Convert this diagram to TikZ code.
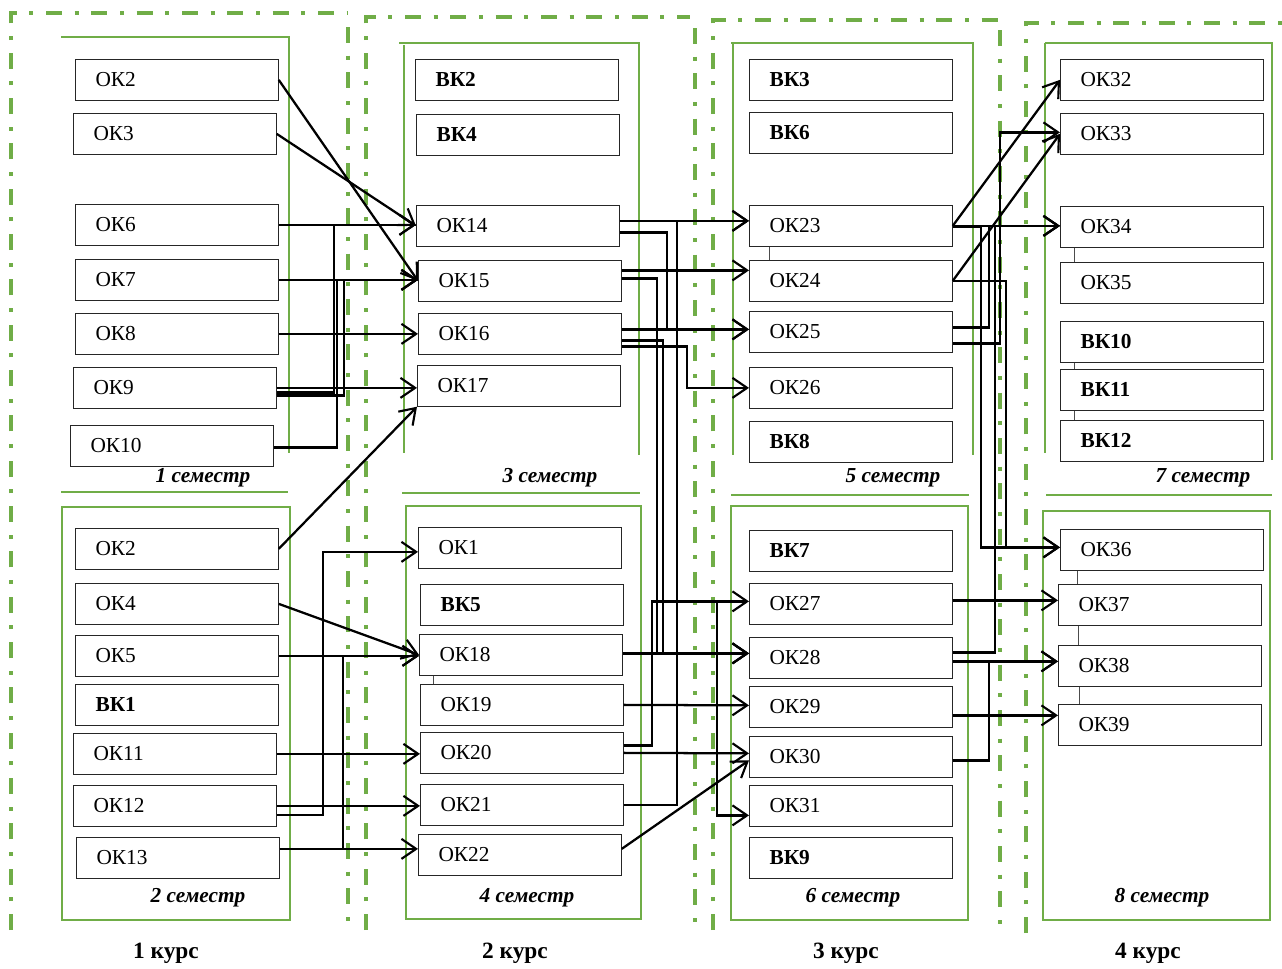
\documentclass[tikz,border=0pt]{standalone}
\usepackage{fontspec}
\setmainfont{Liberation Serif}
\usetikzlibrary{arrows.meta, calc}
\definecolor{planGreen}{RGB}{112,173,71}
\tikzstyle{arrow} = [line width=1.7pt,-{Straight Barb[length=11pt,width=15pt,line width=1.6pt]}]
\tikzstyle{okbox} = [rectangle, draw=black!85, fill=white, line width=0.8pt, anchor=north west, minimum height=30.5pt, inner xsep=15pt, text width=122pt, align=left, font=\fontsize{16}{19}\selectfont]
\tikzstyle{vkbox} = [okbox, font=\fontsize{16}{19}\selectfont\bfseries]
\tikzstyle{semframe} = [draw=planGreen, line width=1pt]
\tikzstyle{yearframe} = [draw=planGreen, line width=3pt, dash pattern=on 12pt off 9.5pt on 3pt off 9.5pt]
\tikzstyle{stub} = [draw=black!70, line width=0.6pt]
\tikzstyle{semlabel} = [font=\fontsize{16}{19}\selectfont\bfseries\itshape]
\tikzstyle{yearlabel} = [font=\fontsize{17.5}{20}\selectfont\bfseries]

\begin{document}
\begin{tikzpicture}[x=0.75pt, y=-0.75pt]
\useasboundingbox (0,0) rectangle (1282,968);

% Course frames
\draw [yearframe] (11,930) -- (11,13) -- (347,13);
\draw [yearframe] (348,27) -- (348,930);
\draw [yearframe] (366,930) -- (366,17) -- (690,17);
\draw [yearframe] (695,28) -- (695,930);
\draw [yearframe] (713,930) -- (713,20) -- (1003,20);
\draw [yearframe] (1000,30) -- (1000,933);
\draw [yearframe] (1026,933) -- (1026,23) -- (1282,23);

% Semester frames
\draw [semframe] (61,37) -- (289,37) -- (289,453);
\draw [semframe] (61,492) -- (288,492);
\draw [semframe] (62,507) rectangle (290,920);
\draw [semframe] (399,43) -- (639,43) -- (639,455);
\draw [semframe] (404,45) -- (404,453);
\draw [semframe] (402,493) -- (640,493);
\draw [semframe] (406,506) rectangle (641,919);
\draw [semframe] (731,43) -- (973,43) -- (973,455);
\draw [semframe] (733,43) -- (733,455);
\draw [semframe] (731,495) -- (969,495);
\draw [semframe] (731,506) rectangle (968,920);
\draw [semframe] (1045,43) -- (1272,43) -- (1272,460);
\draw [semframe] (1045,43) -- (1045,453);
\draw [semframe] (1046,495) -- (1272,495);
\draw [semframe] (1043,511) rectangle (1270,920);

% Placement of nodes
% 1 semester
\node (ok2) [okbox] at (75,59) {ОК2};
\node (ok3) [okbox] at (73,113) {ОК3};
\node (ok6) [okbox] at (75,204) {ОК6};
\node (ok7) [okbox] at (75,259) {ОК7};
\node (ok8) [okbox] at (75,313) {ОК8};
\node (ok9) [okbox] at (73,367) {ОК9};
\node (ok10) [okbox] at (70,425) {ОК10};
% 2 semester
\node (ok2b) [okbox] at (75,528) {ОК2};
\node (ok4) [okbox] at (75,583) {ОК4};
\node (ok5) [okbox] at (75,635) {ОК5};
\node (vk1) [vkbox] at (75,684) {ВК1};
\node (ok11) [okbox] at (73,733) {ОК11};
\node (ok12) [okbox] at (73,785) {ОК12};
\node (ok13) [okbox] at (76,837) {ОК13};
% 3 semester
\node (vk2) [vkbox] at (415,59) {ВК2};
\node (vk4) [vkbox] at (416,114) {ВК4};
\node (ok14) [okbox] at (416,205) {ОК14};
\node (ok15) [okbox] at (418,260) {ОК15};
\node (ok16) [okbox] at (418,313) {ОК16};
\node (ok17) [okbox] at (417,365) {ОК17};
% 4 semester
\node (ok1) [okbox] at (418,527) {ОК1};
\node (vk5) [vkbox] at (420,584) {ВК5};
\node (ok18) [okbox] at (419,634) {ОК18};
\node (ok19) [okbox] at (420,684) {ОК19};
\node (ok20) [okbox] at (420,732) {ОК20};
\node (ok21) [okbox] at (420,784) {ОК21};
\node (ok22) [okbox] at (418,834) {ОК22};
% 5 semester
\node (vk3) [vkbox] at (749,59) {ВК3};
\node (vk6) [vkbox] at (749,112) {ВК6};
\node (ok23) [okbox] at (749,205) {ОК23};
\node (ok24) [okbox] at (749,260) {ОК24};
\node (ok25) [okbox] at (749,311) {ОК25};
\node (ok26) [okbox] at (749,367) {ОК26};
\node (vk8) [vkbox] at (749,421) {ВК8};
% 6 semester
\node (vk7) [vkbox] at (749,530) {ВК7};
\node (ok27) [okbox] at (749,583) {ОК27};
\node (ok28) [okbox] at (749,637) {ОК28};
\node (ok29) [okbox] at (749,686) {ОК29};
\node (ok30) [okbox] at (749,736) {ОК30};
\node (ok31) [okbox] at (749,785) {ОК31};
\node (vk9) [vkbox] at (749,837) {ВК9};
% 7 semester
\node (ok32) [okbox] at (1060,59) {ОК32};
\node (ok33) [okbox] at (1060,113) {ОК33};
\node (ok34) [okbox] at (1060,206) {ОК34};
\node (ok35) [okbox] at (1060,262) {ОК35};
\node (vk10) [vkbox] at (1060,321) {ВК10};
\node (vk11) [vkbox] at (1060,369) {ВК11};
\node (vk12) [vkbox] at (1060,420) {ВК12};
% 8 semester
\node (ok36) [okbox] at (1060,529) {ОК36};
\node (ok37) [okbox] at (1058,584) {ОК37};
\node (ok38) [okbox] at (1058,645) {ОК38};
\node (ok39) [okbox] at (1058,704) {ОК39};

% Labels
\node (sem1) [semlabel] at (203,478) {1 семестр};
\node (sem2) [semlabel] at (198,898) {2 семестр};
\node (sem3) [semlabel] at (550,478) {3 семестр};
\node (sem4) [semlabel] at (527,898) {4 семестр};
\node (sem5) [semlabel] at (893,478) {5 семестр};
\node (sem6) [semlabel] at (853,898) {6 семестр};
\node (sem7) [semlabel] at (1203,478) {7 семестр};
\node (sem8) [semlabel] at (1162,898) {8 семестр};
\node (year1) [yearlabel] at (166,953) {1 курс};
\node (year2) [yearlabel] at (515,953) {2 курс};
\node (year3) [yearlabel] at (846,953) {3 курс};
\node (year4) [yearlabel] at (1148,953) {4 курс};

% Small ties between boxes
\draw [stub] ($(ok18.south west)+(14,0)$) -- ($(ok19.north west)+(13,0)$);
\draw [stub] ($(ok23.south west)+(20,0)$) -- ($(ok24.north west)+(20,0)$);
\draw [stub] ($(ok34.south west)+(14,0)$) -- ($(ok35.north west)+(14,0)$);
\draw [stub] ($(vk10.south west)+(14,0)$) -- ($(vk11.north west)+(14,0)$);
\draw [stub] ($(vk11.south west)+(14,0)$) -- ($(vk12.north west)+(14,0)$);
\draw [stub] ($(ok36.south west)+(17,0)$) -- ($(ok37.north west)+(19,0)$);
\draw [stub] ($(ok37.south west)+(20,0)$) -- ($(ok38.north west)+(20,0)$);
\draw [stub] ($(ok38.south west)+(21,0)$) -- ($(ok39.north west)+(21,0)$);

% Placement of edges
% 1 semester -> 3 semester
\draw [arrow] (ok2.east) -- (ok15.west);
\draw [arrow] (ok3.east) -- (ok14.west);
\draw [arrow] (ok6.east) -- (ok6.east -| ok14.west);
\draw [arrow] (ok7.east) -- (ok7.east -| ok15.west);
\draw [arrow] (ok8.east) -- (ok8.east -| ok16.west);
\draw [arrow] (ok9.east) -- (ok9.east -| ok17.west);
\draw [arrow] ($(ok9.east)+(0,4.5)$) -| ($(ok6.east)+(55,0)$) -- (ok6.east -| ok14.west);
\draw [arrow] ($(ok9.east)+(0,7.5)$) -| ($(ok7.east)+(65,0)$) -- (ok7.east -| ok15.west);
\draw [arrow] ($(ok10.east)+(0,1.5)$) -| ($(ok7.east)+(58,0)$) -- (ok7.east -| ok15.west);
\draw [arrow] (ok2b.east) -- (ok17.south west);

% 2 semester -> 4 semester
\draw [arrow] ($(ok12.east)+(0,9)$) -| ($(ok1.west)+(-95,4)$) -- ($(ok1.west)+(0,4)$);
\draw [arrow] (ok4.east) -- (ok18.west);
\draw [arrow] (ok5.east) -- (ok5.east -| ok18.west);
\draw [arrow] ($(ok13.east)+(0,-9)$) -| ($(ok5.east)+(64,0)$) -- (ok5.east -| ok18.west);
\draw [arrow] (ok11.east) -- (ok11.east -| ok20.west);
\draw [arrow] (ok12.east) -- (ok12.east -| ok21.west);
\draw [arrow] ($(ok13.east)+(0,-9)$) -- ($(ok22.west)+(0,-6)$);

% 3, 4 semester -> 5, 6 semester
\draw [arrow] ($(ok14.east)+(0,-5)$) -- ($(ok23.west)+(0,-5)$);
\draw [arrow] (ok21.east) -| ($(ok23.west)+(-72,-5)$) -- ($(ok23.west)+(0,-5)$);
\draw [arrow] ($(ok14.east)+(0,6.5)$) -| ($(ok25.west)+(-82,-2.5)$) -- ($(ok25.west)+(0,-2.5)$);
\draw [arrow] ($(ok15.east)+(0,-10.5)$) -- ($(ok24.west)+(0,-10.5)$);
\draw [arrow] ($(ok15.east)+(0,-2.5)$) -| ($(ok28.west)+(-92,-4.5)$) -- ($(ok28.west)+(0,-4.5)$);
\draw [arrow] ($(ok16.east)+(0,-4.5)$) -- ($(ok25.west)+(0,-2.5)$);
\draw [arrow] ($(ok16.east)+(0,6.5)$) -| ($(ok28.west)+(-86,-4.5)$) -- ($(ok28.west)+(0,-4.5)$);
\draw [arrow] ($(ok16.east)+(0,12.5)$) -| ($(ok26.west)+(-62,0)$) -- (ok26.west);
\draw [arrow] ($(ok20.east)+(0,-7.5)$) -| ($(ok27.west)+(-97,-2.5)$) -- ($(ok27.west)+(0,-2.5)$);
\draw [arrow] ($(ok27.west)+(-32,-2.5)$) |- ($(ok31.west)+(0,9.5)$);
\draw [arrow] ($(ok18.east)+(0,-1.5)$) -- ($(ok28.west)+(0,-4.5)$);
\draw [arrow] (ok19.east) -- ($(ok29.west)+(0,-1.5)$);
\draw [arrow] (ok20.east) -- ($(ok30.west)+(0,-3.5)$);
\draw [arrow] ($(ok22.east)+(0,-6)$) -- ($(ok30.west)+(0,3.5)$);

% 5, 6 semester -> 7, 8 semester
\draw [arrow] (ok23.east) -- (ok32.west);
\draw [arrow] (ok24.east) -- (ok33.west);
\draw [arrow] (ok23.east) -- (ok23.east -| ok34.west);
\draw [arrow] ($(ok25.east)+(0,-4.5)$) -| ($(ok23.east)+(36,0)$) -- (ok23.east -| ok34.west);
\draw [arrow] ($(ok28.east)+(0,-5.5)$) -| ($(ok23.east)+(42,0)$) -- (ok23.east -| ok34.west);
\draw [arrow] ($(ok25.east)+(0,11.5)$) -| ($(ok33.west)+(-60,-1.5)$) -- ($(ok33.west)+(0,-1.5)$);
\draw [arrow] ($(ok23.east)+(0,1)$) -| ($(ok36.west)+(-79,-2.5)$) -- ($(ok36.west)+(0,-2.5)$);
\draw [arrow] (ok24.east) -| ($(ok36.west)+(-54,-2.5)$) -- ($(ok36.west)+(0,-2.5)$);
\draw [arrow] ($(ok27.east)+(0,-3.5)$) -- ($(ok37.west)+(0,-4.5)$);
\draw [arrow] ($(ok28.east)+(0,3.5)$) -- ($(ok38.west)+(0,-4.5)$);
\draw [arrow] ($(ok30.east)+(0,3.5)$) -| ($(ok38.west)+(-69,-4.5)$) -- ($(ok38.west)+(0,-4.5)$);
\draw [arrow] ($(ok29.east)+(0,8.5)$) -- ($(ok39.west)+(0,-9.5)$);

\end{tikzpicture}
\end{document}
